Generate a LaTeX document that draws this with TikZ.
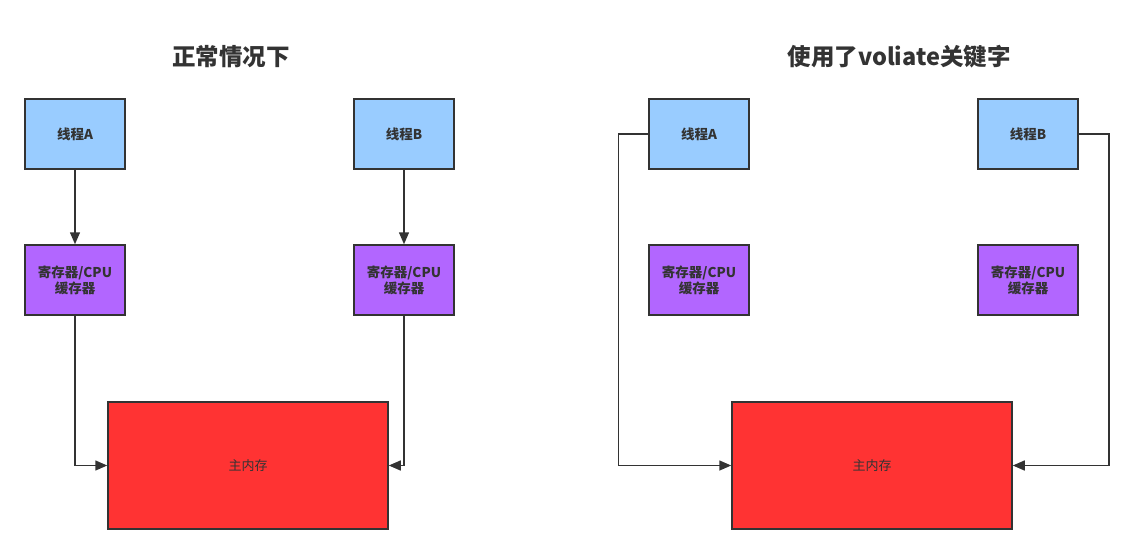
\documentclass[tikz,border=0pt]{standalone}
\usepackage{fontspec}
\setmainfont{Noto Sans CJK SC}
\usepackage{tikz}
\usetikzlibrary{arrows.meta}

\definecolor{lineGray}{HTML}{333333}
\definecolor{threadBlue}{HTML}{99CCFF}
\definecolor{cachePurple}{HTML}{B266FF}
\definecolor{memRed}{HTML}{FF3333}

\begin{document}
\begin{tikzpicture}[x=1pt, y=-1pt, font=\fontsize{13.5}{16}\selectfont\bfseries,
	box/.style={draw=lineGray, line width=1.5pt, text=lineGray, align=center, minimum width=100pt, minimum height=70pt, inner sep=0pt},
	thread/.style={box, fill=threadBlue},
	cache/.style={box, fill=cachePurple},
	memory/.style={box, fill=memRed, minimum width=280pt, minimum height=127pt, font=\fontsize{13}{16}\selectfont\mdseries},
	link/.style={draw=lineGray, line width=1.5pt, -{Triangle[length=12pt,width=10pt]}},
	heading/.style={text=lineGray, font=\fontsize{23.5}{28}\selectfont\bfseries}]
	\useasboundingbox (0,0) rectangle (1132,554);
	% left: normal case
	\node[heading] (titleL) at (231,57) {正常情况下};
	\node[thread] (threadA) at (75,134) {线程A};
	\node[thread] (threadB) at (404,134) {线程B};
	\node[cache] (cacheA) at (75,280) {寄存器/CPU\\缓存器};
	\node[cache] (cacheB) at (404,280) {寄存器/CPU\\缓存器};
	\node[memory] (memL) at (248,465.5) {主内存};
	\draw[link] (threadA) -- (cacheA);
	\draw[link] (threadB) -- (cacheB);
	\draw[link] (cacheA.south) |- (memL.west);
	\draw[link] (cacheB.south) |- (memL.east);
	% right: with volatile
	\node[heading] (titleR) at (899,57) {使用了voliate关键字};
	\node[thread] (rthreadA) at (699,134) {线程A};
	\node[thread] (rthreadB) at (1028,134) {线程B};
	\node[cache] (rcacheA) at (699,280) {寄存器/CPU\\缓存器};
	\node[cache] (rcacheB) at (1028,280) {寄存器/CPU\\缓存器};
	\node[memory] (memR) at (872,465.5) {主内存};
	\draw[link] (rthreadA.west) -- ++(-30,0) |- (memR.west);
	\draw[link] (rthreadB.east) -- ++(30,0) |- (memR.east);
\end{tikzpicture}
\end{document}
